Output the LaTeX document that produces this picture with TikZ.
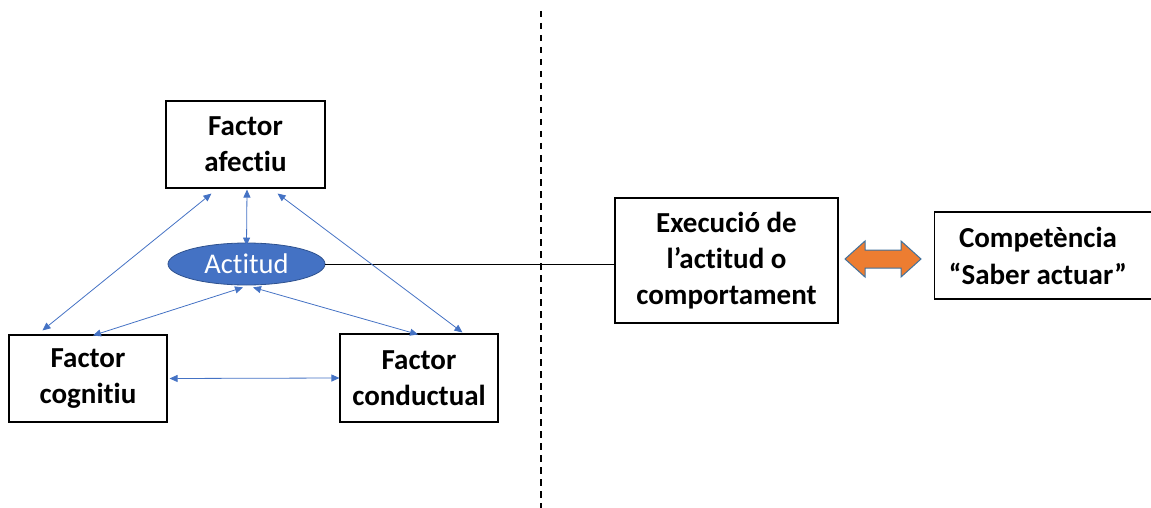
\documentclass[tikz,border=0pt]{standalone}
\usepackage{fontspec}
\setmainfont{Carlito}[Ligatures=CommonOff]
\usetikzlibrary{arrows.meta,shapes.geometric,calc}
\definecolor{accentblue}{HTML}{4472C4}
\definecolor{edgeblue}{HTML}{2F528F}
\definecolor{accentorange}{HTML}{ED7D31}
\definecolor{slateedge}{HTML}{41719C}
\tikzset{
  factorbox/.style={draw=black, line width=1.1pt, fill=white, align=center, inner sep=0pt,
    font=\fontsize{29}{36}\selectfont\bfseries},
  boxlabel/.style={align=center, inner sep=0pt, font=\fontsize{29}{37}\selectfont\bfseries},
  attitude/.style={ellipse, draw=edgeblue, line width=0.8pt, fill=accentblue, text=white,
    inner sep=0pt, minimum width=157pt, minimum height=42pt,
    font=\fontsize{28.5}{32}\selectfont},
  link/.style={draw=accentblue, line width=0.8pt,
    {Triangle[length=8pt,width=7pt]}-{Triangle[length=8pt,width=7pt]}},
  divider/.style={line width=1.3pt, dash pattern=on 6.5pt off 5.5pt},
  bigarrow/.style={fill=accentorange, draw=slateedge, line width=1pt, line join=miter}
}
\begin{document}
\begin{tikzpicture}[x=1pt, y=-1pt]
  \useasboundingbox (0,0) rectangle (1151,508);

  % vertical separator
  \coordinate (septop) at (541,11);
  \coordinate (sepbot) at (541,510);
  \draw[divider] (septop) -- (sepbot);

  % the three factors and the attitude
  \node[factorbox, minimum width=159pt, minimum height=87pt] (afe) at (245.5,144.5) {Factor\\afectiu};
  \node[factorbox, minimum width=158pt, minimum height=87pt] (cog) at (88,378.5) {Factor\\cognitiu};
  \node[factorbox, minimum width=158pt, minimum height=88pt] (con) at (419,378) {Factor\\conductual};
  \node[attitude] (act) at (246.5,264) {Actitud};

  % execution and competence
  \node[factorbox, minimum width=223pt, minimum height=125pt] (exe) at (726.5,260.5) {Execució de\\l’actitud o\\comportament};
  \node[draw=black, line width=1.1pt, fill=white, inner sep=0pt, minimum width=219pt,
        minimum height=87pt, anchor=west] (comp) at (934,255.5) {};
  \node[boxlabel] (comptext) at (1038,256) {Competència\\“Saber actuar”};

  % link from the attitude to its execution
  \draw[line width=0.8pt] (act.east) -- (act.east -| exe.west);

  % relations between the factors
  \draw[link] ([shift={(46,5)}]afe.south west) -- ([shift={(34,-4)}]cog.north west);
  \draw[link] ([shift={(1.5,1)}]afe.south) -- ([yshift=-3pt]act.north);
  \draw[link] ([shift={(-48,5)}]afe.south east) -- ([shift={(123,-1)}]con.north west);
  \draw[link] ([shift={(-3.5,2)}]act.south) -- ([shift={(5,1)}]cog.north);
  \draw[link] ([shift={(6.5,2)}]act.south) -- ([shift={(-1,1)}]con.north);
  \draw[link] ([xshift=2pt]cog.east) -- (con.west);

  % double-headed block arrow
  \coordinate (dl) at (845,259);
  \draw[bigarrow] (dl) -- ++(20,-18) -- ++(0,9) -- ++(36,0) -- ++(0,-9) -- ++(20,18)
    -- ++(-20,18) -- ++(0,-9) -- ++(-36,0) -- ++(0,9) -- cycle;
\end{tikzpicture}
\end{document}
